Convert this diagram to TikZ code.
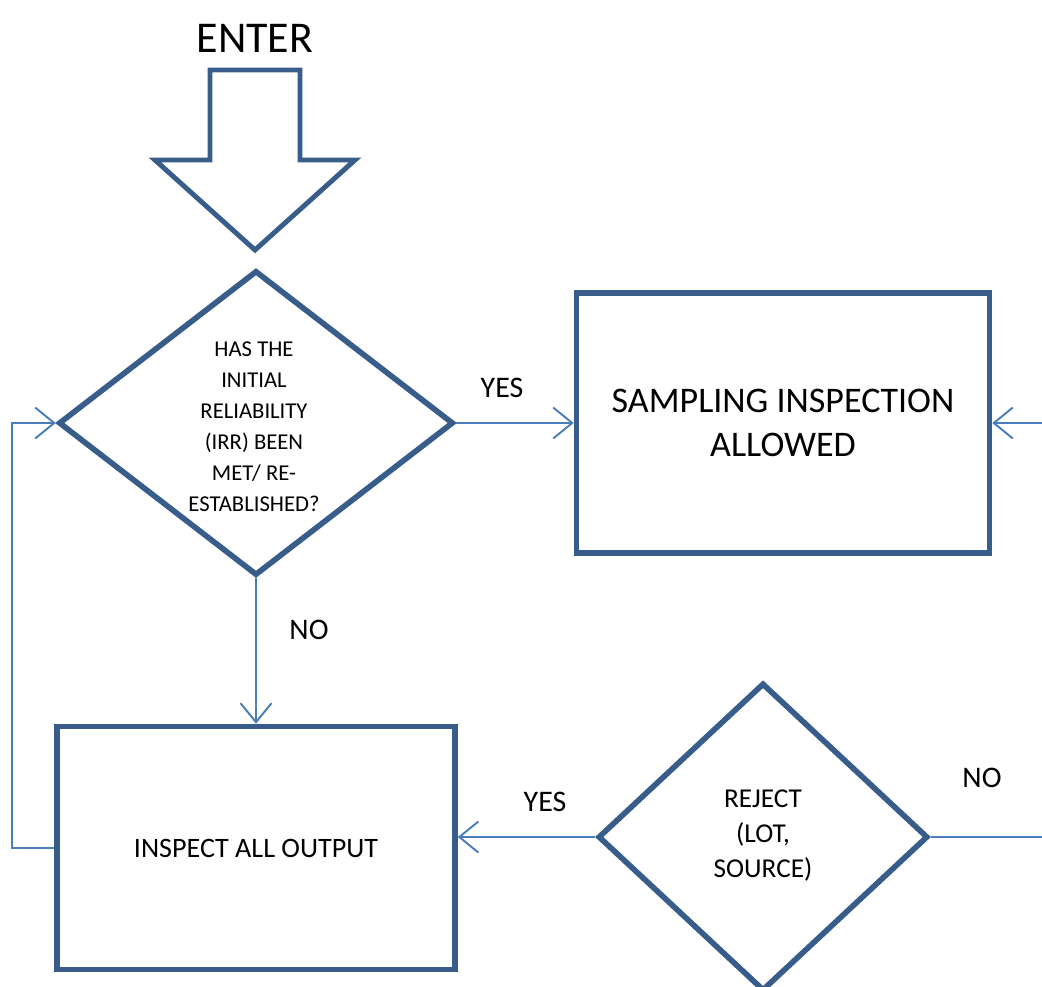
\documentclass[tikz,border=0pt]{standalone}
\usepackage{fontspec}
\setmainfont{Carlito}
\usetikzlibrary{shapes.geometric, arrows.meta}
\definecolor{shapeBlue}{HTML}{385D8A}
\definecolor{lineBlue}{HTML}{4A7EBB}
\tikzstyle{boxDecision} = [diamond, inner sep=0pt, draw=shapeBlue, line width=3.2pt, fill=white]
\tikzstyle{boxAction} = [rectangle, align=center, draw=shapeBlue, line width=3.2pt, fill=white]
\tikzstyle{arrow} = [draw=lineBlue, line width=1.1pt, -{Straight Barb[length=0.38cm, width=0.62cm]}]
\tikzstyle{flowLabel} = [font=\fontsize{17}{20}\selectfont]
\begin{document}
\begin{tikzpicture}[x=0.02cm, y=-0.02cm]
\clip (0,0) rectangle (1042,987);
\fill [white] (0,0) rectangle (1042,987);

% way in
\node (enter) at (255,38) {\fontsize{25}{30}\selectfont ENTER};
\draw [draw=shapeBlue, line width=2.8pt, fill=white] (210,70) -- (300,70) -- (300,160) -- (355,160) -- (255,250) -- (155,160) -- (210,160) -- cycle;

% shapes
\node (irr) [boxDecision, minimum width=7.9cm, minimum height=6.1cm] at (256,423) {};
\node (irrText) [align=center, font=\fontsize{12.9}{17.6}\selectfont] at (254,427) {HAS THE\\ INITIAL\\ RELIABILITY\\ (IRR) BEEN\\ MET/ RE-\\ ESTABLISHED?};

\node (sample) [boxAction, minimum width=8.26cm, minimum height=5.2cm, font=\fontsize{20.5}{25.5}\selectfont] at (783,423) {SAMPLING INSPECTION\\ ALLOWED};

\node (inspect) [boxAction, minimum width=7.96cm, minimum height=4.86cm, font=\fontsize{16}{19}\selectfont] at (256,848) {INSPECT ALL OUTPUT};

\node (reject) [boxDecision, minimum width=6.6cm, minimum height=6.16cm] at (763,837) {};
\node (rejectText) [align=center, font=\fontsize{15.5}{19.9}\selectfont] at (763,836) {REJECT\\ (LOT,\\ SOURCE)};

% connectors
\draw [arrow] (irr.east) -- (sample.west);
\draw [arrow] (irr.south) -- (inspect.north);
\draw [arrow] (inspect.west) -- ++(-42,0) |- (irr.west);
\draw [arrow] (reject.west) -- (reject.west -| inspect.east);
\draw [arrow] (reject.east) -- ++(150,0) |- (sample.east);

% labels
\node (yesSample) [flowLabel] at (502,388) {YES};
\node (noInspect) [flowLabel] at (309,630) {NO};
\node (yesInspect) [flowLabel] at (545,802) {YES};
\node (noSample) [flowLabel] at (982,778) {NO};

\end{tikzpicture}
\end{document}
